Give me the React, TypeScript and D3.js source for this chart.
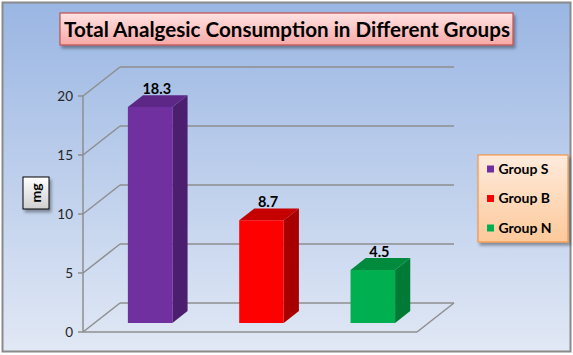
import React from "react";
import * as d3 from "d3";

const groups = ["Group S", "Group B", "Group N"];
const values = [18.3, 8.7, 4.5];
const valueLabels = ["18.3", "8.7", "4.5"];
const yTicks = [0, 5, 10, 15, 20];
const frontColors = ["#7030A0", "#FF0000", "#00B050"];
const sideColors = ["#4B1E6F", "#A80000", "#007A35"];
const topColors = ["#5D2788", "#C40000", "#008A3E"];
const titleText = "Total  Analgesic Consumption in Different Groups";
const yLabel = "mg";

const W = 573;
const H = 355;
const FONT = "Lato, 'Open Sans', 'DejaVu Sans', sans-serif";

export default function App() {
  const y = d3.scaleLinear().domain([0, 20]).range([332, 96]);
  const x = d3.scaleBand<string>().domain(groups).range([83, 417]).paddingInner(0.6).paddingOuter(0.3);
  const DX = 37;
  const DY = 29;
  const p = (px: number, v: number, d: number): [number, number] => [px + DX * d, y(v) - DY * d];
  const poly = (pts: [number, number][]) => pts.map((q) => q.join(",")).join(" ");
  const dFront = 0.31;
  const dBack = 0.72;
  const gridColor = "#8E8E8E";

  return (
    <div style={{ position: "fixed", left: 0, top: 0 }}>
      <svg width={W} height={H} style={{ display: "block" }}>
        <defs>
          <linearGradient id="bg" x1="0" y1="0" x2="0" y2="1">
            <stop offset="0" stopColor="#9AB6E3" />
            <stop offset="1" stopColor="#E1E8F5" />
          </linearGradient>
          <linearGradient id="titleFill" x1="0" y1="0" x2="0" y2="1">
            <stop offset="0" stopColor="#FFE3E2" />
            <stop offset="1" stopColor="#F7A8A6" />
          </linearGradient>
          <linearGradient id="legFill" x1="0" y1="0" x2="0" y2="1">
            <stop offset="0" stopColor="#FFEBDD" />
            <stop offset="1" stopColor="#FCC99A" />
          </linearGradient>
          <linearGradient id="lblFill" x1="0" y1="0" x2="0" y2="1">
            <stop offset="0" stopColor="#FFFFFF" />
            <stop offset="1" stopColor="#CFCFCF" />
          </linearGradient>
          <filter id="sh" x="-10%" y="-10%" width="130%" height="140%">
            <feDropShadow dx="2" dy="3" stdDeviation="1.5" floodColor="#000" floodOpacity="0.35" />
          </filter>
        </defs>
        <rect x={0} y={0} width={W} height={H} fill="#FFFFFF" />
        <rect x={2.5} y={2.5} width={568} height={349} fill="url(#bg)" stroke="#8A8A8A" strokeWidth={2} />

        {/* gridlines */}
        {yTicks.map((t) => {
          const a = p(83, t, 0);
          const b = p(83, t, 1);
          return (
            <g key={t}>
              <line x1={a[0]} y1={a[1]} x2={b[0]} y2={b[1]} stroke={gridColor} strokeWidth={1.5} />
              <line x1={b[0]} y1={b[1]} x2={417 + DX} y2={b[1]} stroke={gridColor} strokeWidth={1.5} />
              <line x1={78} y1={a[1]} x2={83} y2={a[1]} stroke={gridColor} strokeWidth={1.5} />
              <text x={73} y={a[1]} dy="0.35em" textAnchor="end" fontFamily={FONT} fontSize={13.5} fill="#262626">
                {t}
              </text>
            </g>
          );
        })}
        <line x1={83} y1={y(20)} x2={83} y2={y(0)} stroke={gridColor} strokeWidth={1.5} />
        <line x1={83} y1={y(0)} x2={417} y2={y(0)} stroke={gridColor} strokeWidth={1.5} />
        <line x1={417} y1={y(0)} x2={417 + DX} y2={y(0) - DY} stroke={gridColor} strokeWidth={1.5} />

        {/* bars */}
        {groups.map((g, i) => {
          const x0 = x(g)!;
          const x1 = x0 + x.bandwidth();
          const v = values[i];
          const fTL = p(x0, v, dFront);
          const fTR = p(x1, v, dFront);
          const fBR = p(x1, 0, dFront);
          const fBL = p(x0, 0, dFront);
          const bTL = p(x0, v, dBack);
          const bTR = p(x1, v, dBack);
          const bBR = p(x1, 0, dBack);
          return (
            <g key={g}>
              <polygon points={poly([fTR, bTR, bBR, fBR])} fill={sideColors[i]} />
              <polygon points={poly([fTL, bTL, bTR, fTR])} fill={topColors[i]} />
              <polygon points={poly([fTL, fTR, fBR, fBL])} fill={frontColors[i]} />
              <text
                x={(fTL[0] + bTR[0]) / 2 - 1}
                y={bTL[1] - 1}
                textAnchor="middle"
                fontFamily={FONT}
                fontWeight="bold"
                fontSize={14.5}
                fill="#000"
              >
                {valueLabels[i]}
              </text>
            </g>
          );
        })}

        {/* title */}
        <rect x={60} y={13} width={453} height={32} fill="url(#titleFill)" stroke="#C0504D" strokeWidth={1.2} filter="url(#sh)" />
        <text
          x={287}
          y={29.5}
          dy="0.35em"
          textAnchor="middle"
          fontFamily={FONT}
          fontWeight="bold"
          fontSize={20}
          textLength={446}
          lengthAdjust="spacingAndGlyphs"
          fill="#000"
        >
          {titleText}
        </text>

        {/* y label */}
        <rect x={23} y={177} width={26} height={32} fill="url(#lblFill)" stroke="#000" strokeWidth={1} filter="url(#sh)" />
        <text
          transform="translate(36,193) rotate(-90)"
          textAnchor="middle"
          dy="0.35em"
          fontFamily={FONT}
          fontWeight="bold"
          fontSize={14}
          fill="#000"
        >
          {yLabel}
        </text>

        {/* legend */}
        <rect x={478} y={155} width={90} height={87} fill="url(#legFill)" stroke="#F79646" strokeWidth={1.2} filter="url(#sh)" />
        {groups.map((g, i) => {
          const cy = 169 + i * 29.5;
          return (
            <g key={g}>
              <rect x={487} y={cy - 3.5} width={7} height={7} fill={frontColors[i]} />
              <text x={498.5} y={cy} dy="0.35em" fontFamily={FONT} fontWeight="bold" fontSize={14} fill="#000">
                {g}
              </text>
            </g>
          );
        })}
      </svg>
    </div>
  );
}
